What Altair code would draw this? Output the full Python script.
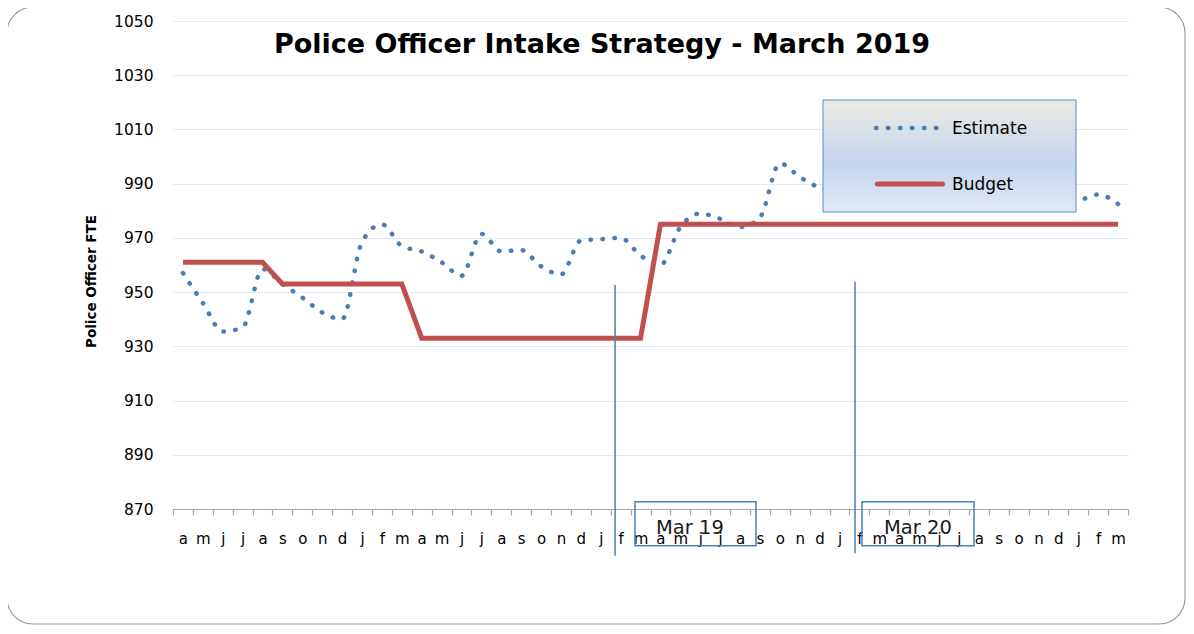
import json
import altair as alt
import pandas as pd

# ---------------- data ----------------
months = ["a", "m", "j", "j", "a", "s", "o", "n", "d", "j", "f", "m",
          "a", "m", "j", "j", "a", "s", "o", "n", "d", "j", "f", "m",
          "a", "m", "j", "j", "a", "s", "o", "n", "d", "j", "f", "m",
          "a", "m", "j", "j", "a", "s", "o", "n", "d", "j", "f", "m"]

estimate = [957, 946, 935.5, 937, 958.5, 953, 948, 942.5, 940, 968.5, 975, 967,
            965, 961, 956, 971.5, 965, 965.5, 959.5, 956.5, 969, 969.5, 970, 963.5,
            960, 974, 979, 977, 974, 977.5, 997.5, 992.5, 988.5, 987, 988, 990,
            989, 987, 986, 985, 987, 986, 985, 984, 984, 984, 986, 982.5]

budget = [961, 961, 961, 961, 961, 953, 953, 953, 953, 953, 953, 953,
          933, 933, 933, 933, 933, 933, 933, 933, 933, 933, 933, 933,
          975, 975, 975, 975, 975, 975, 975, 975, 975, 975, 975, 975,
          975, 975, 975, 975, 975, 975, 975, 975, 975, 975, 975, 975]

series_names = ["Estimate", "Budget"]
y_ticks = [870, 890, 910, 930, 950, 970, 990, 1010, 1030, 1050]

# vertical marker lines (x in month index units, y in FTE units)
marker_x = [21.72, 33.78]
marker_top = [952.6, 953.8]
marker_bottom = [852.8, 853.7]

# "Mar 19" / "Mar 20" annotation boxes
box_labels = ["Mar 19", "Mar 20"]
box_left = [22.72, 34.13]
box_right = [28.8, 39.76]
box_top = [872.7, 872.7]
box_bottom = [856.4, 856.4]
box_text_x = [25.48, 36.94]
box_text_y = [860.8, 860.8]

chart_title = "Police Officer Intake Strategy - March 2019"
y_title = "Police Officer FTE"

# ---------------- style ----------------
W, H = 955, 488
n = len(months)
BLUE = "#4a7ebb"
RED = "#c0504d"
FONT = "DejaVu Sans"
GRAY = "#a6a6a6"

df = pd.DataFrame({"idx": list(range(n)), "month": months,
                   "Estimate": estimate, "Budget": budget})
ann = pd.DataFrame({"x": marker_x, "top": marker_top, "bottom": marker_bottom})
boxes = pd.DataFrame({"label": box_labels, "left": box_left, "right": box_right,
                      "top": box_top, "bottom": box_bottom,
                      "tx": box_text_x, "ty": box_text_y})
one = pd.DataFrame({"k": [0]})

x_scale = alt.Scale(domain=[-0.5, n - 0.5], nice=False, zero=False)
y_scale = alt.Scale(domain=[y_ticks[0], y_ticks[-1]], nice=False, zero=False)

label_js = json.dumps(months)
x_axis = alt.Axis(
    values=[i - 0.5 for i in range(n + 1)],
    labelExpr=f"({label_js})[datum.value + 0.5] || ''",
    labelOffset=W / n / 2, labelFlush=False, labelOverlap=False,
    grid=False, ticks=True, tickSize=6, tickColor=GRAY, tickWidth=1.2,
    domain=True, domainColor=GRAY, domainWidth=1.2,
    labelFont=FONT, labelFontSize=15, labelColor="#000",
    labelBaseline="alphabetic", labelPadding=28, title=None)

y_axis = alt.Axis(
    values=y_ticks, format="d", grid=True, gridColor="#e2e9f3", gridWidth=1,
    domain=False, ticks=False,
    labelFont=FONT, labelFontSize=15.5, labelColor="#000", labelPadding=20,
    title=y_title, titleFont=FONT, titleFontSize=13.5, titleFontWeight="bold",
    titleColor="#000", titleX=-75, titleY=260)

X = lambda f: alt.X(f, scale=x_scale, axis=x_axis)
Y = lambda f: alt.Y(f, scale=y_scale, axis=y_axis)

frame = alt.Chart(one).mark_rect(
    fillOpacity=0, stroke="#9a9a9a", strokeWidth=1.2, cornerRadius=26
).encode(x=alt.value(-166), x2=alt.value(1012), y=alt.value(-14), y2=alt.value(603))

est = alt.Chart(df).mark_line(
    color=BLUE, strokeWidth=4.5, strokeDash=[0.5, 11.5], strokeCap="round",
    interpolate="monotone"
).encode(x=X("idx:Q"), y=Y("Estimate:Q"))

bud = alt.Chart(df).mark_line(color=RED, strokeWidth=5).encode(
    x=X("idx:Q"), y=Y("Budget:Q"))

markers = alt.Chart(ann).mark_rule(color=BLUE, strokeWidth=1.5).encode(
    x=X("x:Q"), y=Y("top:Q"), y2="bottom:Q")

box_rects = alt.Chart(boxes).mark_rect(
    fillOpacity=0, stroke=BLUE, strokeWidth=1.5
).encode(x=X("left:Q"), x2="right:Q", y=Y("top:Q"), y2="bottom:Q")

box_text = alt.Chart(boxes).mark_text(
    font=FONT, fontSize=19.5, color="#1a1a1a", baseline="alphabetic", align="center"
).encode(x=X("tx:Q"), y=Y("ty:Q"), text="label:N")

title = alt.Chart(one).mark_text(
    text=chart_title, font=FONT, fontSize=27, fontWeight="bold", color="#000",
    align="center", baseline="alphabetic"
).encode(x=alt.value(429), y=alt.value(31.7))

legend_box = alt.Chart(one).mark_rect(
    fill=alt.Gradient(gradient="linear", x1=0, x2=0, y1=0, y2=1, stops=[
        alt.GradientStop(color="#ecebe4", offset=0),
        alt.GradientStop(color="#c6d5ec", offset=0.55),
        alt.GradientStop(color="#e0e8f4", offset=1)]),
    stroke="#5b89c4", strokeWidth=1
).encode(x=alt.value(650), x2=alt.value(903), y=alt.value(79), y2=alt.value(191))

leg_est = alt.Chart(one).mark_rule(
    color=BLUE, strokeWidth=4.5, strokeDash=[0.5, 11.5], strokeCap="round"
).encode(x=alt.value(703), x2=alt.value(764), y=alt.value(107))

leg_bud = alt.Chart(one).mark_rule(
    color=RED, strokeWidth=5, strokeCap="round"
).encode(x=alt.value(704.5), x2=alt.value(769.5), y=alt.value(163))

leg_est_t = alt.Chart(one).mark_text(
    text=series_names[0], font=FONT, fontSize=17, color="#000",
    align="left", baseline="alphabetic"
).encode(x=alt.value(779), y=alt.value(113))

leg_bud_t = alt.Chart(one).mark_text(
    text=series_names[1], font=FONT, fontSize=17, color="#000",
    align="left", baseline="alphabetic"
).encode(x=alt.value(779), y=alt.value(169))

chart = alt.layer(
    frame, est, bud, markers, box_rects, box_text, title,
    legend_box, leg_est, leg_bud, leg_est_t, leg_bud_t
).properties(
    width=W, height=H,
    autosize=alt.AutoSizeParams(type="none"),
    padding={"left": 165, "top": 13, "right": 58, "bottom": 117},
).configure_view(stroke="transparent")

chart.save("out.html", embed_options={"renderer": "svg", "actions": False})
